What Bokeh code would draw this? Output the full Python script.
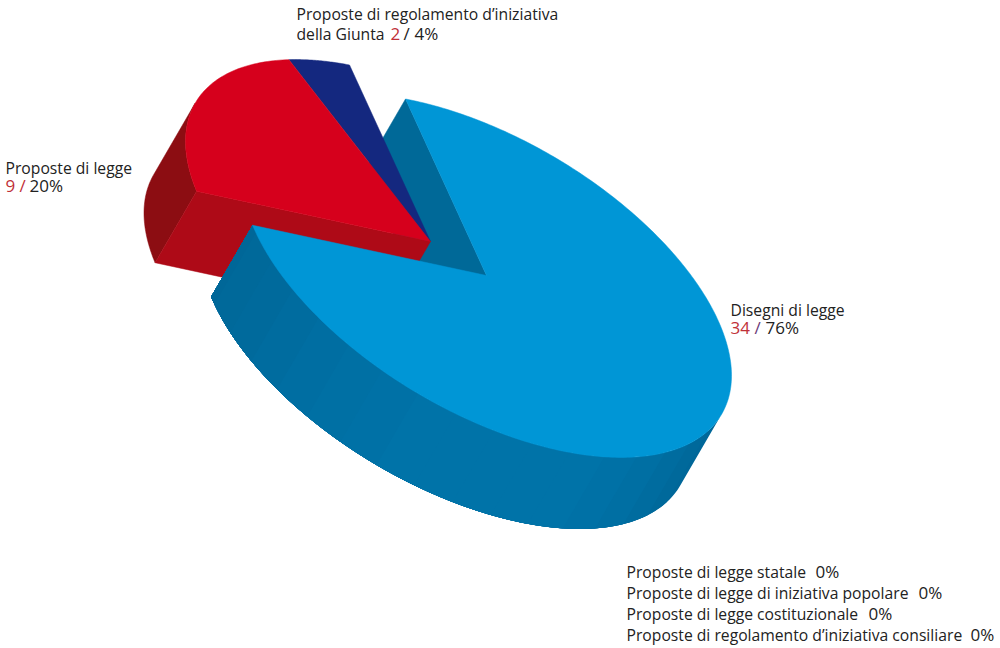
import math
from bokeh.plotting import figure
from bokeh.models import Range1d
from bokeh.core.properties import value
from bokeh.embed import file_html
from bokeh.resources import INLINE

# --- data ---
categories = ["Disegni di legge", "Proposte di legge", "Proposte di regolamento d’iniziativa della Giunta"]
counts = [34, 9, 2]
percents = [76, 20, 4]
zero_categories = ["Proposte di legge statale", "Proposte di legge di iniziativa popolare",
                   "Proposte di legge costituzionale", "Proposte di regolamento d’iniziativa consiliare"]
zero_percents = [0, 0, 0, 0]

# --- projection of the tilted disc (page pixels) ---
CENTER = (486.0, 275.0)
EXPLODED = (430.0, 241.0)
AX, BX, BY = 245.0, 100.0, 152.0
DEPTH = (-41.5, 71.5)
START = -109.3

TOP = ["#0096D6", "#D6001C", "#14287F"]
INNER_BLUE = "#006998"
INNER_RED = "#AE0A17"
OUTER_RED = "#8C0D12"
TEXT = "#222222"
NUM = "#bf3038"
WALL_STOPS = [(15, (0, 0x65, 0x97)), (32, (0, 0x6a, 0x9c)), (48, (0, 0x6f, 0xa3)), (65, (0, 0x73, 0xa8)),
              (100, (0, 0x73, 0xa8)), (125, (0, 0x6f, 0xa3)), (148, (0, 0x6a, 0x9c)), (165, (0, 0x67, 0x98))]

def pt(c, t):
    r = math.radians(t)
    u, v = math.cos(r), math.sin(r)
    return c[0] + AX * u, c[1] + BX * u + BY * v

def arc(c, a, b, n=120):
    return [pt(c, a + (b - a) * i / n) for i in range(n + 1)]

def sh(p):
    return (p[0] + DEPTH[0], p[1] + DEPTH[1])

def wall_color(t):
    for (a, ca), (b, cb) in zip(WALL_STOPS, WALL_STOPS[1:]):
        if a <= t <= b:
            f = (t - a) / (b - a)
            return "#%02x%02x%02x" % tuple(round(x + (y - x) * f) for x, y in zip(ca, cb))
    return "#%02x%02x%02x" % WALL_STOPS[-1][1]

# angle where the extrusion direction is tangent to the rim
u = DEPTH[0] / AX
v = (DEPTH[1] - BX * u) / BY
TANGENT = math.degrees(math.atan2(v, u)) - 90.0

total = sum(counts)
spans = [c / total * 360 for c in counts]
b0, b1 = START, START + spans[0]
r0, r1 = b1, b1 + spans[1]
n0, n1 = r1, r1 + spans[2]

p = figure(width=1000, height=648, output_backend="svg", toolbar_location=None,
           x_range=Range1d(0, 1000), y_range=Range1d(648, 0), min_border=0, outline_line_color=None)
p.axis.visible = False
p.grid.visible = False
p.background_fill_color = "white"

def poly(points, color):
    xs = [q[0] for q in points]
    ys = [q[1] for q in points]
    p.patch(xs, ys, fill_color=color, line_color=color, line_width=0.5)

# back inner wall of the large slice
e = pt(CENTER, b0)
poly([CENTER, e, sh(e), sh(CENTER)], INNER_BLUE)
# small slice top
poly([EXPLODED] + arc(EXPLODED, n0, n1, 40), TOP[2])
# medium slice walls and top
outer = arc(EXPLODED, r0, TANGENT + 180.0, 60)
poly(outer + [sh(q) for q in reversed(outer)], OUTER_RED)
e = pt(EXPLODED, r0)
poly([EXPLODED, e, sh(e), sh(EXPLODED)], INNER_RED)
poly([EXPLODED] + arc(EXPLODED, r0, r1, 80), TOP[1])
# large slice outer wall, bands overlap each other so no seams show
step = 9.0
t = TANGENT
while t < b1:
    seg = arc(CENTER, t, b1, 120)
    c = wall_color(t + step / 2)
    p.patch([a[0] for a in seg] + [sh(a)[0] for a in reversed(seg)],
            [a[1] for a in seg] + [sh(a)[1] for a in reversed(seg)],
            fill_color=c, line_color=None)
    t += step
# large slice top
poly([CENTER] + arc(CENTER, b0, b1, 300), TOP[0])

FONT = value("Open Sans")
FS = "15.7px"
FS_NUM = "17px"

def label(x, y, s, color=TEXT, size=FS):
    p.text([x], [y], text=[s], text_font=FONT, text_font_size=size, text_color=color,
           text_baseline="alphabetic", text_align="left")

# upper label
label(296, 13, "Proposte di regolamento d’iniziativa")
label(296, 33, "della Giunta")
label(390, 33, str(counts[2]), NUM, FS_NUM)
label(403, 33, "/", TEXT, FS_NUM)
label(414, 33, f"{percents[2]}%", TEXT, FS_NUM)
# left label
label(5, 167, categories[1])
label(5, 185, str(counts[1]), NUM, FS_NUM)
label(19, 185, "/", NUM, FS_NUM)
label(29, 185, f"{percents[1]}%", TEXT, FS_NUM)
# right label
label(730, 309, categories[0])
label(730, 327, str(counts[0]), NUM, FS_NUM)
label(754, 327, "/", "#6a3a78", FS_NUM)
label(765, 327, f"{percents[0]}%", TEXT, FS_NUM)
# zero categories
for y, s, x, v_ in zip([571, 592, 613, 634], zero_categories, [815, 918, 868, 970], zero_percents):
    label(626, y, s)
    label(x, y, f"{v_}%", TEXT, FS_NUM)

open("out.html", "w").write(file_html(p, INLINE))
